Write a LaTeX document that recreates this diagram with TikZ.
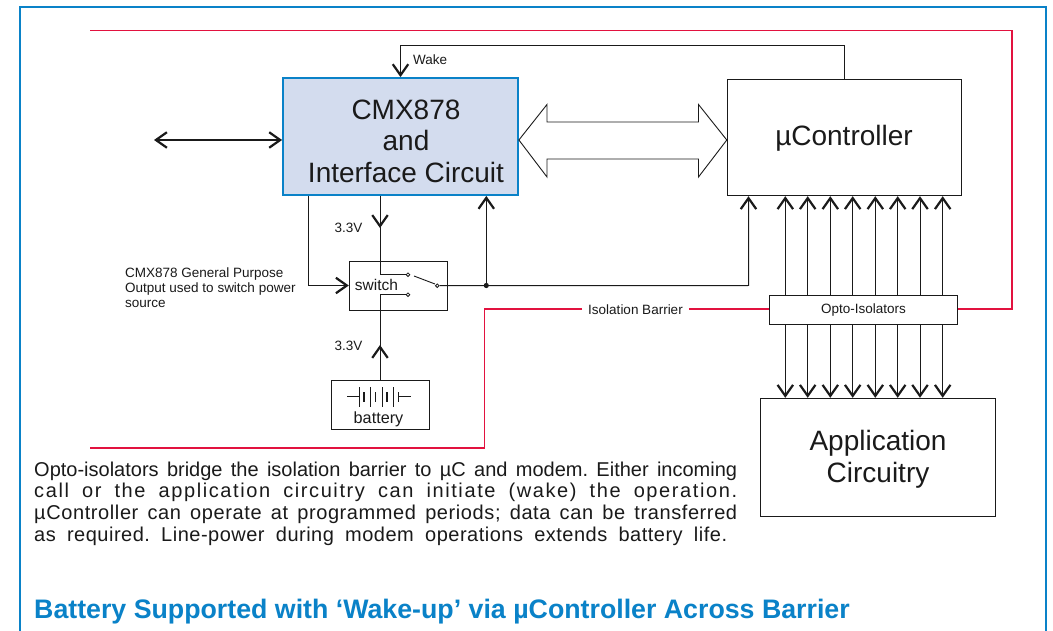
\documentclass[tikz,border=0pt]{standalone}
\usepackage{fontspec}
\setmainfont{Liberation Sans}
\usetikzlibrary{arrows.meta,calc}
\definecolor{frameblue}{HTML}{0A82C8}
\definecolor{cmxfill}{HTML}{D3DCEE}
\definecolor{barrier}{HTML}{E2123F}
\definecolor{ink}{HTML}{1A1A1A}
\tikzset{
  barb/.tip={Straight Barb[length=11pt,width=15.5pt,line width=2.2pt]},
  wire/.style={draw=ink,line width=1pt},
  redline/.style={draw=barrier,line width=1.9pt},
  boxed/.style={draw=ink,line width=1.4pt,fill=white,inner sep=0pt,align=center,text=ink},
  bigtext/.style={inner sep=0pt,align=center,text=ink,font=\fontsize{28}{32}\selectfont},
  small/.style={inner sep=0pt,text=ink,font=\fontsize{13.5}{15}\selectfont,align=left},
  contact/.style={circle,draw=ink,line width=.8pt,fill=white,inner sep=0pt,minimum size=3.6pt},
}
\begin{document}
\begin{tikzpicture}[x=1pt,y=-1pt]
\useasboundingbox (0,0) rectangle (1053,631);
\fill[white] (0,0) rectangle (1053,631);
% frame
\draw[frameblue,line width=2.2pt] (19.6,631) -- (19.6,7) -- (1045.6,7) -- (1045.6,631);

% boxes
\node[boxed,draw=frameblue,line width=1.8pt,fill=cmxfill,minimum width=235pt,minimum height=117pt] (cmx) at (400.5,136.5) {};
\node[bigtext,font=\fontsize{28}{31.5}\selectfont] (cmxt) at (406,141) {CMX878\\and\\Interface Circuit};
\node[boxed,minimum width=234pt,minimum height=116pt] (uc) at (844.5,137.5) {};
\node[bigtext] (uct) at (844,138.5) {µController};
\node[boxed,minimum width=98pt,minimum height=49pt] (sw) at (398.5,286) {};
\node[boxed,minimum width=98pt,minimum height=49pt] (bat) at (380.5,405) {};
\node[boxed,minimum width=188pt,minimum height=29pt,font=\fontsize{13.5}{14}\selectfont] (opto) at (863.5,310) {Opto-Isolators};
\node[boxed,minimum width=235pt,minimum height=118pt] (app) at (878,457.5) {};
\node[bigtext] (appt) at (878,459.5) {Application\\Circuitry};

% texts
\node[inner sep=0pt,text=ink,font=\fontsize{15.5}{18}\selectfont] (swt) at (376.5,285) {switch};
\node[inner sep=0pt,text=ink,font=\fontsize{16.2}{18}\selectfont] (batt) at (378.5,419) {battery};
\node[small,anchor=west] (wake) at (413,60) {Wake};
\node[small,anchor=west] (v1) at (334.5,227.5) {3.3V};
\node[small,anchor=west] (v2) at (334.5,346) {3.3V};
\node[small,anchor=north west] (gp) at (125,268) {CMX878 General Purpose\\Output used to switch power\\source};
\node[small] (iso) at (635.5,309.5) {Isolation Barrier};

% red barrier
\coordinate (r1) at (90,30.5);
\coordinate (r2) at (1012,30.5);
\coordinate (r3) at (1012,309);
\coordinate (r4) at (484.5,309);
\coordinate (r5) at (484.5,448);
\coordinate (r6) at (90,448);
\draw[redline] (r1) -- (r2) -- (r3) -- (opto.east |- r3);
\draw[redline] ($(iso.east |- r3)+(6,0)$) -- (opto.west |- r3);
\draw[redline] ($(iso.west |- r3)+(-6,0)$) -- (r4) -- (r5) -- (r6);

% wake
\coordinate (w0) at (844,45.5);
\coordinate (w1) at (400.5,45.5);
\draw[wire,-{barb}] (w0 |- uc.north) -- (w0) -- (w1) -- (cmx.north);

% line side
\coordinate (ln) at (154,140);
\draw[wire,line width=1.3pt,{barb}-{barb}] (ln) -- (ln -| cmx.west);

% bus
\coordinate (bl) at (cmx.east |- ln);
\coordinate (br) at (uc.west |- ln);
\draw[draw=ink,line width=.9pt,fill=white] (bl) -- (547,104.5) -- (547,122) -- (698.5,122) -- (698.5,104.5) -- (br) -- (698.5,177) -- (698.5,159) -- (547,159) -- (547,177) -- cycle;

% power wiring
\node[contact] (c1) at (408,274.7) {};
\node[contact] (c2) at (408,294.7) {};
\node[contact] (piv) at (437.3,285.7) {};
\coordinate (p1) at (380,274.7);
\coordinate (p2) at (380,294.7);
\coordinate (h1) at (380,228);
\coordinate (h2) at (380,345);
\coordinate (gp0) at (308,195);
\coordinate (gp1) at (308,285.5);
\coordinate (j) at (486.3,285.5);
\coordinate (ucc) at (748.5,285.5);
\draw[wire] (p1 |- cmx.south) -- (p1) -- (c1);
\draw[wire,-{barb}] (p1 |- cmx.south) -- (h1);
\draw[wire] (c2) -- (p2) -- (p2 |- bat.north);
\draw[wire,-{barb}] (p2 |- bat.north) -- (h2);
\draw[wire,-{barb}] (gp0 |- cmx.south) -- (gp1) -- (sw.west |- gp1);
\draw[wire,line width=.9pt] (414,276) -- (435,284);
\draw[wire,-{barb}] (piv) -- (ucc) -- (ucc |- uc.south);
\fill[ink] (j) circle (2.6pt);
\draw[wire,-{barb}] (j) -- (j |- cmx.south);

% battery symbol
\draw[ink,line width=.9pt] (347,396.8) -- (359,396.8) (398,396.8) -- (411,396.8);
\foreach \x in {359.5,370.7,382.3,393.7}{
  \draw[ink,line width=1pt] (\x,387) -- (\x,407);
  \draw[ink,line width=1.3pt] (\x+4.6,392) -- (\x+4.6,402);
}

% isolator channels
\foreach \x in {785.3,807.7,830.3,852.7,875.3,897.7,920,942.7}{
  \draw[wire,-{barb}] (\x,0 |- opto.north) -- (\x,0 |- uc.south);
  \draw[wire,-{barb}] (\x,0 |- opto.south) -- (\x,0 |- app.north);
}

% paragraph
\node[anchor=north west,inner sep=0pt,text=ink,font=\fontsize{20}{21.7}\selectfont] (para) at (34,461.5) {\vbox{\hsize=703pt\baselineskip=21.7pt\frenchspacing\hfuzz=20pt
\hbox to 703pt{Opto-isolators bridge the isolation barrier to µC and modem. Either incoming}
\hbox to 703pt{\addfontfeature{LetterSpace=8}call or the application circuitry can initiate (wake) the operation.}
\hbox to 703pt{\addfontfeature{LetterSpace=3}µController can operate at programmed periods; data can be transferred}
\hbox to 693pt{\addfontfeature{LetterSpace=2.5}as required. Line-power during modem operations extends battery life.}}};

% title
\node[anchor=base west,inner sep=0pt,text=frameblue,font=\fontsize{26.75}{28}\selectfont\bfseries] (title) at (34,618) {Battery Supported with ‘Wake-up’ via µController Across Barrier};
\end{tikzpicture}
\end{document}
